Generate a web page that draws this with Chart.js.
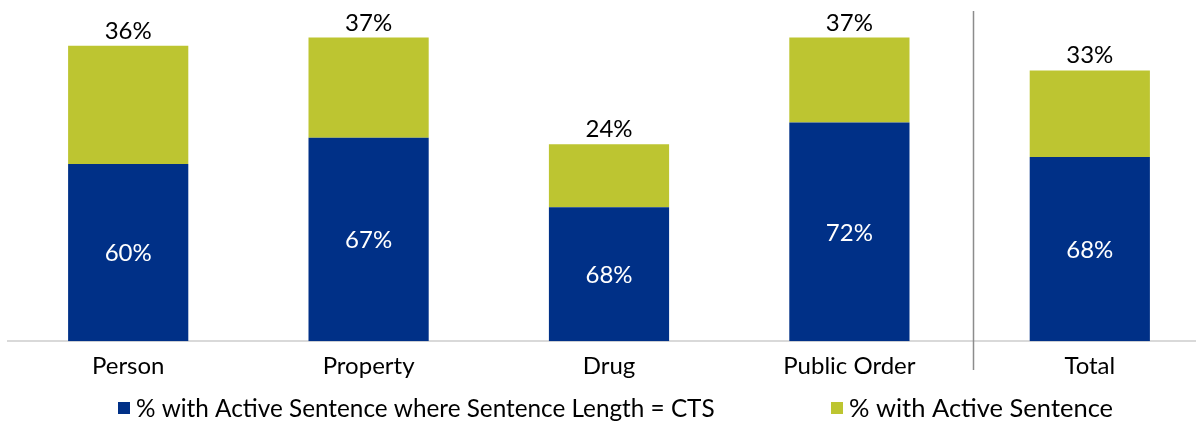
<!DOCTYPE html>
<html>
<head>
<meta charset="utf-8">
<script src="https://cdn.jsdelivr.net/npm/chart.js@4"></script>
<style>
  html, body { margin: 0; padding: 0; background: #fff; overflow: hidden; }
  #wrap { width: 1196px; height: 421px; overflow: hidden; position: relative; }
  #box { width: 1210px; height: 421px; position: absolute; left: 0; top: 0; }
</style>
</head>
<body>
<div id="wrap"><div id="box"><canvas id="c"></canvas></div></div>
<script>
// ---- data ----
const categories = ['Person', 'Property', 'Drug', 'Public Order', 'Total'];
const activeSentencePct = [36, 37, 24, 37, 33];          // % with Active Sentence (bar total)
const ctsSharePct = [60, 67, 68, 72, 68];                // % of those where Sentence Length = CTS
const seriesNames = ['% with Active Sentence where Sentence Length = CTS', '% with Active Sentence'];
const colors = ['#003087', '#BDC531'];

// stacked segments derived from the two read arrays
const ctsPart = activeSentencePct.map((v, i) => v * ctsSharePct[i] / 100);
const restPart = activeSentencePct.map((v, i) => v - ctsPart[i]);

const FONT = 'Lato, "Open Sans", sans-serif';
const FS = 24;

const labelPlugin = {
  id: 'labels',
  afterDatasetsDraw(chart) {
    const ctx = chart.ctx;
    const m0 = chart.getDatasetMeta(0), m1 = chart.getDatasetMeta(1);
    ctx.save();
    ctx.font = FS + 'px ' + FONT;
    ctx.textAlign = 'center';
    m0.data.forEach((bar, i) => {
      ctx.fillStyle = '#ffffff';
      ctx.textBaseline = 'middle';
      ctx.fillText(ctsSharePct[i] + '%', bar.x, (bar.y + bar.base) / 2 + 1);
      const top = m1.data[i];
      ctx.fillStyle = '#000000';
      ctx.textBaseline = 'alphabetic';
      ctx.fillText(activeSentencePct[i] + '%', top.x, top.y - 7);
    });
    // divider between Public Order and Total
    const xs = chart.scales.x;
    const dx = Math.round(xs.getPixelForValue(3.5)) + 3.5;
    ctx.strokeStyle = '#8c8c8c';
    ctx.lineWidth = 1.5;
    ctx.beginPath();
    ctx.moveTo(dx, 11);
    ctx.lineTo(dx, 370);
    ctx.stroke();
    // legend
    ctx.textBaseline = 'middle';
    ctx.textAlign = 'left';
    const ly = 408;
    const starts = [118, 831];
    const sizes = [24.3, 25.5];
    seriesNames.forEach((name, i) => {
      ctx.font = sizes[i] + 'px ' + FONT;
      ctx.fillStyle = colors[i];
      ctx.fillRect(starts[i], ly - 6, 12, 12);
      ctx.fillStyle = '#000000';
      ctx.fillText(name, starts[i] + 18, ly + 1);
    });
    ctx.restore();
  }
};

new Chart(document.getElementById('c'), {
  type: 'bar',
  data: {
    labels: categories,
    datasets: [
      { label: seriesNames[0], data: ctsPart, backgroundColor: colors[0], borderWidth: 0 },
      { label: seriesNames[1], data: restPart, backgroundColor: colors[1], borderWidth: 0 }
    ]
  },
  options: {
    responsive: true,
    maintainAspectRatio: false,
    animation: false,
    events: [],
    layout: { padding: { left: 8, right: 0, top: 13, bottom: 29 } },
    plugins: { legend: { display: false }, tooltip: { enabled: false } },
    datasets: { bar: { barPercentage: 0.5, categoryPercentage: 1.0 } },
    scales: {
      x: {
        stacked: true,
        grid: { display: false, drawTicks: false },
        border: { display: true, color: '#d9d9d9', width: 2 },
        ticks: { color: '#000', padding: 11, font: { family: FONT, size: FS }, maxRotation: 0 }
      },
      y: {
        stacked: true,
        display: false,
        min: 0,
        max: 40
      }
    }
  },
  plugins: [labelPlugin]
});
</script>
</body>
</html>
